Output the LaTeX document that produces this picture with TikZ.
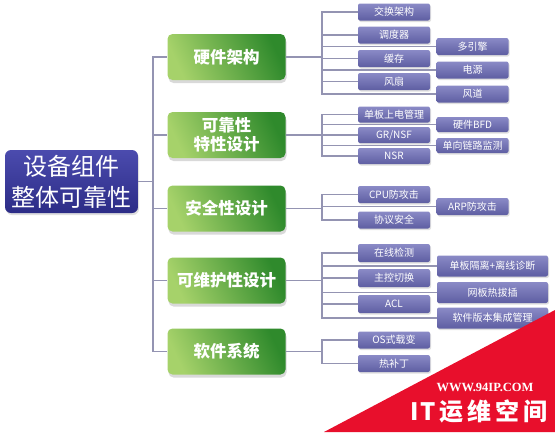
\documentclass[tikz,border=0pt]{standalone}
\usepackage{fontspec}
\setmainfont{Liberation Sans}
\newfontfamily\cjk{Noto Sans CJK SC}
\newfontfamily\wmserif{Liberation Serif}
\usetikzlibrary{shadows}
\definecolor{rootA}{HTML}{4B4BAE}
\definecolor{rootB}{HTML}{2C2C86}
\definecolor{gA}{HTML}{A6D26A}
\definecolor{gB}{HTML}{2F8A2C}
\definecolor{pA}{HTML}{8A8AC6}
\definecolor{pB}{HTML}{5E5EA2}
\definecolor{conn}{HTML}{9494B2}
\definecolor{wmred}{HTML}{E80F2C}
\begin{document}
\begin{tikzpicture}[x=1pt,y=-1pt,
  rootbox/.style={rounded corners=6pt, top color=rootA, bottom color=rootB, draw=none,
    minimum width=133pt, minimum height=63pt, text=white, align=center,
    font=\cjk\fontsize{24}{31}\selectfont, drop shadow={opacity=0.25, shadow xshift=1pt, shadow yshift=-2pt}},
  gbox/.style={rounded corners=5pt, left color=gA, right color=gB, shading angle=115, draw=none,
    minimum width=118pt, minimum height=46pt, text=white, align=center,
    font=\cjk\bfseries\fontsize{16.5}{19}\selectfont, drop shadow={opacity=0.3, shadow xshift=1pt, shadow yshift=-3pt}},
  pbox/.style={rounded corners=2pt, top color=pA, bottom color=pB, draw=none,
    minimum width=72pt, minimum height=17pt, inner sep=1pt, text=white,
    font=\cjk\fontsize{10}{12}\selectfont, drop shadow={opacity=0.25, shadow xshift=1pt, shadow yshift=-1.5pt}},
  pwide/.style={pbox, minimum width=111pt, minimum height=21pt},
  cline/.style={draw=conn, line width=1.8pt},
]
\useasboundingbox (0,0) rectangle (555,432);

% root
\node[rootbox] (root) at (71.5,181.5) {设备组件\\整体可靠性};

% level 1
\node[gbox] (g1) at (226.5,57) {硬件架构};
\node[gbox] (g2) at (226.5,135) {可靠性\\特性设计};
\node[gbox] (g3) at (226.5,208.5) {安全性设计};
\node[gbox] (g4) at (226.5,280.5) {可维护性设计};
\node[gbox] (g5) at (226.5,351.5) {软件系统};

% group 1
\node[pbox] (a1) at (394,12) {交换架构};
\node[pbox] (a2) at (394,35) {调度器};
\node[pbox] (a3) at (394,58.5) {缓存};
\node[pbox] (a4) at (394,81.5) {风扇};
\node[pbox] (b1) at (472.5,46.5) {多引擎};
\node[pbox] (b2) at (472.5,70) {电源};
\node[pbox] (b3) at (472.5,94) {风道};

% group 2
\node[pbox, minimum height=16pt] (c1) at (394,114.5) {单板上电管理};
\node[pbox, minimum height=16pt] (c2) at (394,135) {GR/NSF};
\node[pbox, minimum height=16pt] (c3) at (394,156) {NSR};
\node[pbox, minimum height=15pt] (d1) at (472.5,124.5) {硬件BFD};
\node[pbox, minimum height=15pt] (d2) at (472.5,145.5) {单向链路监测};

% group 3
\node[pbox] (e1) at (394,194.5) {CPU防攻击};
\node[pbox] (e2) at (394,220) {协议安全};
\node[pbox] (f1) at (472.5,206.5) {ARP防攻击};

% group 4
\node[pbox, minimum height=18pt] (h1) at (394,253) {在线检测};
\node[pbox, minimum height=18pt] (h2) at (394,278) {主控切换};
\node[pbox, minimum height=18pt] (h3) at (394,304) {ACL};
\node[pwide] (k1) at (492.5,266) {单板隔离+离线诊断};
\node[pwide] (k2) at (492.5,292.5) {网板热拔插};
\node[pwide] (k3) at (492.5,318) {软件版本集成管理};

% group 5
\node[pbox] (m1) at (394,340) {OS式载变};
\node[pbox] (m2) at (394,363.5) {热补丁};

% trunks
\coordinate (r0) at (153,181.5);
\coordinate (t1) at (322,57);
\coordinate (t2) at (322,135);
\coordinate (t3) at (322,208.5);
\coordinate (t4) at (322,280.5);
\coordinate (t5) at (322,351.5);

\draw[cline] (root.east) -- (r0);
\foreach \g in {g1,g2,g3,g4,g5} \draw[cline] (r0) |- (\g.west);

\draw[cline] (g1.east) -- (t1);
\foreach \n in {a1,a2,a3,a4,b1,b2,b3} \draw[cline] (t1) |- (\n.west);
\draw[cline] (g2.east) -- (t2);
\foreach \n in {c1,c2,c3,d1,d2} \draw[cline] (t2) |- (\n.west);
\draw[cline] (g3.east) -- (t3);
\foreach \n in {e1,e2,f1} \draw[cline] (t3) |- (\n.west);
\draw[cline] (g4.east) -- (t4);
\foreach \n in {h1,h2,h3,k1,k2,k3} \draw[cline] (t4) |- (\n.west);
\draw[cline] (g5.east) -- (t5);
\foreach \n in {m1,m2} \draw[cline] (t5) |- (\n.west);

% watermark
\fill[wmred] (555,310) -- (555,432) -- (324,432) -- cycle;
\node[text=white, font=\wmserif\bfseries\fontsize{12.5}{14}\selectfont, anchor=center] (wm1) at (485,387.5) {WWW.94IP.COM};
\node[text=white, font=\cjk\bfseries\fontsize{24}{28}\selectfont, anchor=center] (wm2) at (479,411) {I\hspace{1pt}T\hspace{4pt}运\hspace{4pt}维\hspace{4pt}空\hspace{4pt}间};
\end{tikzpicture}
\end{document}
